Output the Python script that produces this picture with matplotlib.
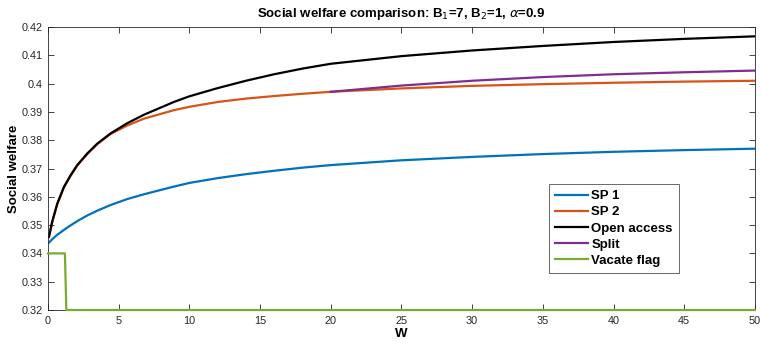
import matplotlib.pyplot as plt

plt.rcParams["font.family"] = ["Liberation Sans", "DejaVu Sans"]

# values
w = [0.07, 0.3, 0.66, 1.13, 1.6, 2.07, 2.78, 3.49, 4.43, 5.61, 6.79, 8.9,
     10, 12, 14, 16, 18, 20, 25, 30, 35, 40, 45, 50]
sp1 = [0.3438, 0.3450, 0.3466, 0.3483, 0.3499, 0.3514, 0.3534, 0.3551,
       0.3571, 0.3592, 0.3609, 0.3636, 0.3649, 0.3666, 0.3680, 0.3692,
       0.3703, 0.3712, 0.3729, 0.3741, 0.3751, 0.3759, 0.3765, 0.3770]
sp2 = [0.3457, 0.3510, 0.3574, 0.3633, 0.3674, 0.3710, 0.3751, 0.3786,
       0.3822, 0.3852, 0.3876, 0.3906, 0.3918, 0.3935, 0.3947, 0.3956,
       0.3964, 0.3971, 0.3983, 0.3992, 0.3998, 0.4003, 0.4007, 0.4010]
open_access = [0.3459, 0.3512, 0.3576, 0.3635, 0.3676, 0.3712, 0.3753,
               0.3788, 0.3824, 0.3860, 0.3890, 0.3935, 0.3955, 0.3984,
               0.4010, 0.4033, 0.4053, 0.4070, 0.4097, 0.4117, 0.4133,
               0.4147, 0.4158, 0.4167]
w_split = [20, 25, 30, 35, 40, 45, 50]
split = [0.3971, 0.3993, 0.4010, 0.4023, 0.4033, 0.4040, 0.4046]
w_flag = [0, 1.2, 1.3, 50]
flag = [0.34, 0.34, 0.32, 0.32]

fig = plt.figure(figsize=(7.61, 3.46), dpi=100)
ax = fig.add_axes([0.063, 0.104, 0.929, 0.818])

lw = 1.6
ax.plot(w, sp1, color="#0072BD", lw=lw, label="SP 1")
ax.plot(w, sp2, color="#D95319", lw=lw, label="SP 2")
ax.plot(w, open_access, color="black", lw=lw, label="Open access")
ax.plot(w_split, split, color="#7E2F8E", lw=lw, label="Split")
ax.plot(w_flag, flag, color="#77AC30", lw=lw, label="Vacate flag",
        clip_on=False, zorder=3)

ax.set_xlim(0, 50)
ax.set_ylim(0.32, 0.42)
ax.set_xticks(range(0, 51, 5))
ax.set_yticks([0.32, 0.33, 0.34, 0.35, 0.36, 0.37, 0.38, 0.39, 0.4, 0.41, 0.42])
ax.set_yticklabels(["0.32", "0.33", "0.34", "0.35", "0.36", "0.37", "0.38",
                    "0.39", "0.4", "0.41", "0.42"])
ax.tick_params(direction="in", top=True, right=True, labelsize=7.8,
               colors="#262626", length=4, width=0.6, pad=4)
for s in ax.spines.values():
    s.set_color("#262626")
    s.set_linewidth(0.6)

ax.set_xlabel("W", fontsize=9.5, fontweight="bold", labelpad=2)
ax.set_ylabel("Social welfare", fontsize=9.5, fontweight="bold", labelpad=1)
ax.set_title(r"Social welfare comparison: B$_1$=7, B$_2$=1, $\alpha$=0.9",
             fontsize=9.5, fontweight="bold", pad=7)

leg = ax.legend(loc="lower left", bbox_to_anchor=(0.709, 0.131),
                prop={"weight": "bold", "size": 9.5}, frameon=True,
                fancybox=False, borderpad=0.45, labelspacing=0.3,
                handlelength=2.5, handletextpad=0.25, borderaxespad=0)
leg.get_frame().set_edgecolor("#262626")
leg.get_frame().set_linewidth(0.6)

fig.savefig("out.png", dpi=100)
